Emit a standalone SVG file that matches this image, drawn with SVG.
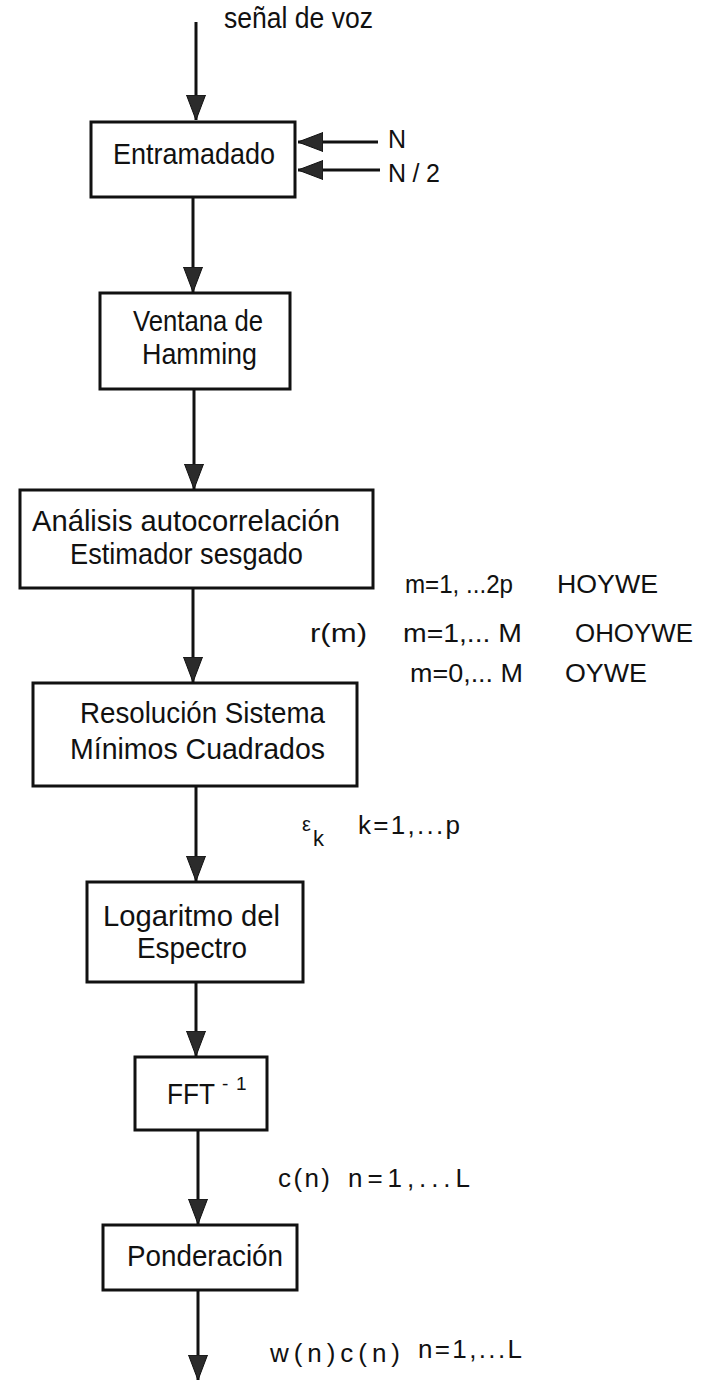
<svg xmlns="http://www.w3.org/2000/svg" width="704" height="1382" viewBox="0 0 704 1382">
  <defs>
    <marker id="head" markerUnits="userSpaceOnUse" markerWidth="26" markerHeight="22" viewBox="0 0 26 22" refX="25" refY="11" orient="auto">
      <path d="M0,1.5 L25,11 L0,20.5 Z" fill="#2b2b2b" stroke="#111" stroke-width="1"/>
    </marker>
    <style>
      .box { fill: #fff; stroke: #111; stroke-width: 3; }
      .wire { fill: none; stroke: #111; stroke-width: 3; marker-end: url(#head); }
      text { font-family: "Liberation Sans", Arial, sans-serif; fill: #111; }
      .t { font-size: 29px; }
      .lbl { font-size: 26px; }
      .sup { font-size: 19px; }
    </style>
  </defs>

  <!-- connectors -->
  <g id="connectors">
    <line class="wire" x1="196" y1="22" x2="196" y2="120"/>
    <line class="wire" x1="378" y1="142" x2="298" y2="142"/>
    <line class="wire" x1="380" y1="170" x2="298" y2="170"/>
    <line class="wire" x1="193" y1="197" x2="193" y2="292"/>
    <line class="wire" x1="194" y1="389" x2="194" y2="489"/>
    <line class="wire" x1="193" y1="588" x2="193" y2="682"/>
    <line class="wire" x1="196" y1="786" x2="196" y2="881"/>
    <line class="wire" x1="196" y1="982" x2="196" y2="1056"/>
    <line class="wire" x1="198" y1="1130" x2="198" y2="1224"/>
    <line class="wire" x1="198" y1="1290" x2="198" y2="1380"/>
  </g>

  <!-- signal labels -->
  <g id="labels">
    <text class="t" x="224" y="28" textLength="149" lengthAdjust="spacingAndGlyphs">señal de voz</text>
    <text x="388" y="148" font-size="25">N</text>
    <text x="388" y="182" font-size="25" textLength="52" lengthAdjust="spacing">N/2</text>

    <text class="lbl" x="405" y="593" textLength="108" lengthAdjust="spacingAndGlyphs">m=1, ...2p</text>
    <text class="lbl" x="557" y="593" textLength="101" lengthAdjust="spacingAndGlyphs">HOYWE</text>
    <text class="lbl" x="310" y="642" textLength="57" lengthAdjust="spacingAndGlyphs">r(m)</text>
    <text class="lbl" x="403" y="642" textLength="119" lengthAdjust="spacingAndGlyphs">m=1,... M</text>
    <text class="lbl" x="575" y="642" textLength="118" lengthAdjust="spacingAndGlyphs">OHOYWE</text>
    <text class="lbl" x="410" y="682" textLength="113" lengthAdjust="spacingAndGlyphs">m=0,... M</text>
    <text class="lbl" x="565" y="682" textLength="82" lengthAdjust="spacingAndGlyphs">OYWE</text>

    <text x="302" y="831" font-size="20">ε</text>
    <text x="313" y="846" font-size="22">k</text>
    <text class="lbl" x="358" y="834" textLength="102" lengthAdjust="spacing">k=1,...p</text>

    <text class="lbl" x="278" y="1187" textLength="52" lengthAdjust="spacing">c(n)</text>
    <text class="lbl" x="348" y="1187" textLength="122" lengthAdjust="spacing">n=1,...L</text>

    <text class="lbl" x="270" y="1362" textLength="130" lengthAdjust="spacing">w(n)c(n)</text>
    <text class="lbl" x="418" y="1358" textLength="104" lengthAdjust="spacing">n=1,...L</text>
  </g>

  <!-- processing blocks -->
  <g id="entramadado">
    <rect class="box" x="91" y="122" width="204" height="75"/>
    <text class="t" x="113" y="164" textLength="162" lengthAdjust="spacingAndGlyphs">Entramadado</text>
  </g>

  <g id="ventana">
    <rect class="box" x="100" y="293" width="190" height="96"/>
    <text class="t" x="133" y="331" textLength="130" lengthAdjust="spacingAndGlyphs">Ventana de</text>
    <text class="t" x="142" y="364" textLength="115" lengthAdjust="spacingAndGlyphs">Hamming</text>
  </g>

  <g id="autocorrelacion">
    <rect class="box" x="20" y="490" width="353" height="98"/>
    <text class="t" x="32" y="531" textLength="308" lengthAdjust="spacingAndGlyphs">Análisis  autocorrelación</text>
    <text class="t" x="70" y="564" textLength="233" lengthAdjust="spacingAndGlyphs">Estimador sesgado</text>
  </g>

  <g id="minimos-cuadrados">
    <rect class="box" x="33" y="683" width="324" height="103"/>
    <text class="t" x="80" y="723" textLength="245" lengthAdjust="spacingAndGlyphs">Resolución Sistema</text>
    <text class="t" x="70" y="759" textLength="255" lengthAdjust="spacingAndGlyphs">Mínimos Cuadrados</text>
  </g>

  <g id="logaritmo">
    <rect class="box" x="87" y="882" width="216" height="100"/>
    <text class="t" x="103" y="926" textLength="177" lengthAdjust="spacingAndGlyphs">Logaritmo del</text>
    <text class="t" x="137" y="958" textLength="110" lengthAdjust="spacingAndGlyphs">Espectro</text>
  </g>

  <g id="fft-inversa">
    <rect class="box" x="135" y="1057" width="132" height="73"/>
    <text class="t" x="167" y="1104" textLength="48" lengthAdjust="spacingAndGlyphs">FFT</text>
    <text class="sup" x="222" y="1090">-</text>
    <text class="sup" x="236" y="1090">1</text>
  </g>

  <g id="ponderacion">
    <rect class="box" x="103" y="1225" width="194" height="65"/>
    <text class="t" x="127" y="1266" textLength="156" lengthAdjust="spacingAndGlyphs">Ponderación</text>
  </g>
</svg>
